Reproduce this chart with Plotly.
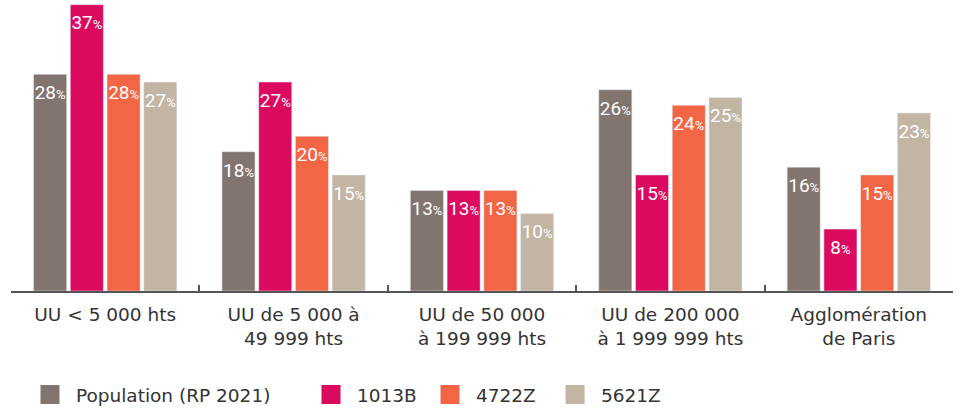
import plotly.graph_objects as go

categories = ["UU < 5 000 hts", "UU de 5 000 à<br>49 999 hts", "UU de 50 000<br>à 199 999 hts",
              "UU de 200 000<br>à 1 999 999 hts", "Agglomération<br>de Paris"]
series_names = ["Population (RP 2021)", "1013B", "4722Z", "5621Z"]
population = [28, 18, 13, 26, 16]
s_1013b = [37, 27, 13, 15, 8]
s_4722z = [28, 20, 13, 24, 15]
s_5621z = [27, 15, 10, 25, 23]
colors = ["#82756F", "#DC0A5F", "#F26645", "#C2B5A3"]
legend_x = [0.0312, 0.3233, 0.447, 0.577]

FONT = "DejaVu Sans"
LABEL_FONT = "Roboto"


def bar_label(v):
    return ("<span style='font-size:14.7px'>\u00a0</span><br>"
            f"<span style='font-size:19px'>{v}</span><span style='font-size:13px'>%</span>")


fig = go.Figure()
for i, (name, vals) in enumerate(zip(series_names, [population, s_1013b, s_4722z, s_5621z])):
    fig.add_trace(go.Bar(
        x=categories, y=vals, name=name, marker_color=colors[i], showlegend=False,
        text=[bar_label(v) for v in vals],
        textposition="inside", insidetextanchor="end", textangle=0,
        constraintext="none",
        textfont=dict(family=LABEL_FONT, size=6, color="white"),
        hoverinfo="skip",
    ))
for i, name in enumerate(series_names):
    lg = "legend" if i == 0 else f"legend{i+1}"
    fig.add_trace(go.Scatter(
        x=[None], y=[None], mode="markers", name="\u00a0" + name,
        marker=dict(symbol="square", size=16, color=colors[i], line=dict(color=colors[i], width=3)),
        legend=lg, showlegend=True,
    ))

layout_legends = {}
for i in range(4):
    key = "legend" if i == 0 else f"legend{i+1}"
    layout_legends[key] = dict(
        orientation="h", x=legend_x[i], xref="container", xanchor="left",
        y=0.034, yref="container", yanchor="middle",
        font=dict(family=FONT, size=18.5, color="#333"), bgcolor="rgba(0,0,0,0)",
    )

fig.update_layout(
    width=962, height=409,
    margin=dict(l=11, r=9, t=0, b=118, autoexpand=False),
    paper_bgcolor="white", plot_bgcolor="white",
    barmode="group", bargap=0.22, bargroupgap=0.1,
    font=dict(family=FONT, size=18.5, color="#333"),
    xaxis=dict(
        showline=True, linecolor="#555", linewidth=2, automargin=False,
        ticks="inside", tickson="boundaries", ticklen=6, tickcolor="#555", tickwidth=1.5,
        tickfont=dict(family=FONT, size=18.5, color="#333"), ticklabelstandoff=6,
        showgrid=False,
    ),
    yaxis=dict(visible=False, range=[0, 37.6], showgrid=False),
    **layout_legends,
)

fig.write_html("out.html", post_script="document.body.style.margin='0';",
               config={"displayModeBar": False})
